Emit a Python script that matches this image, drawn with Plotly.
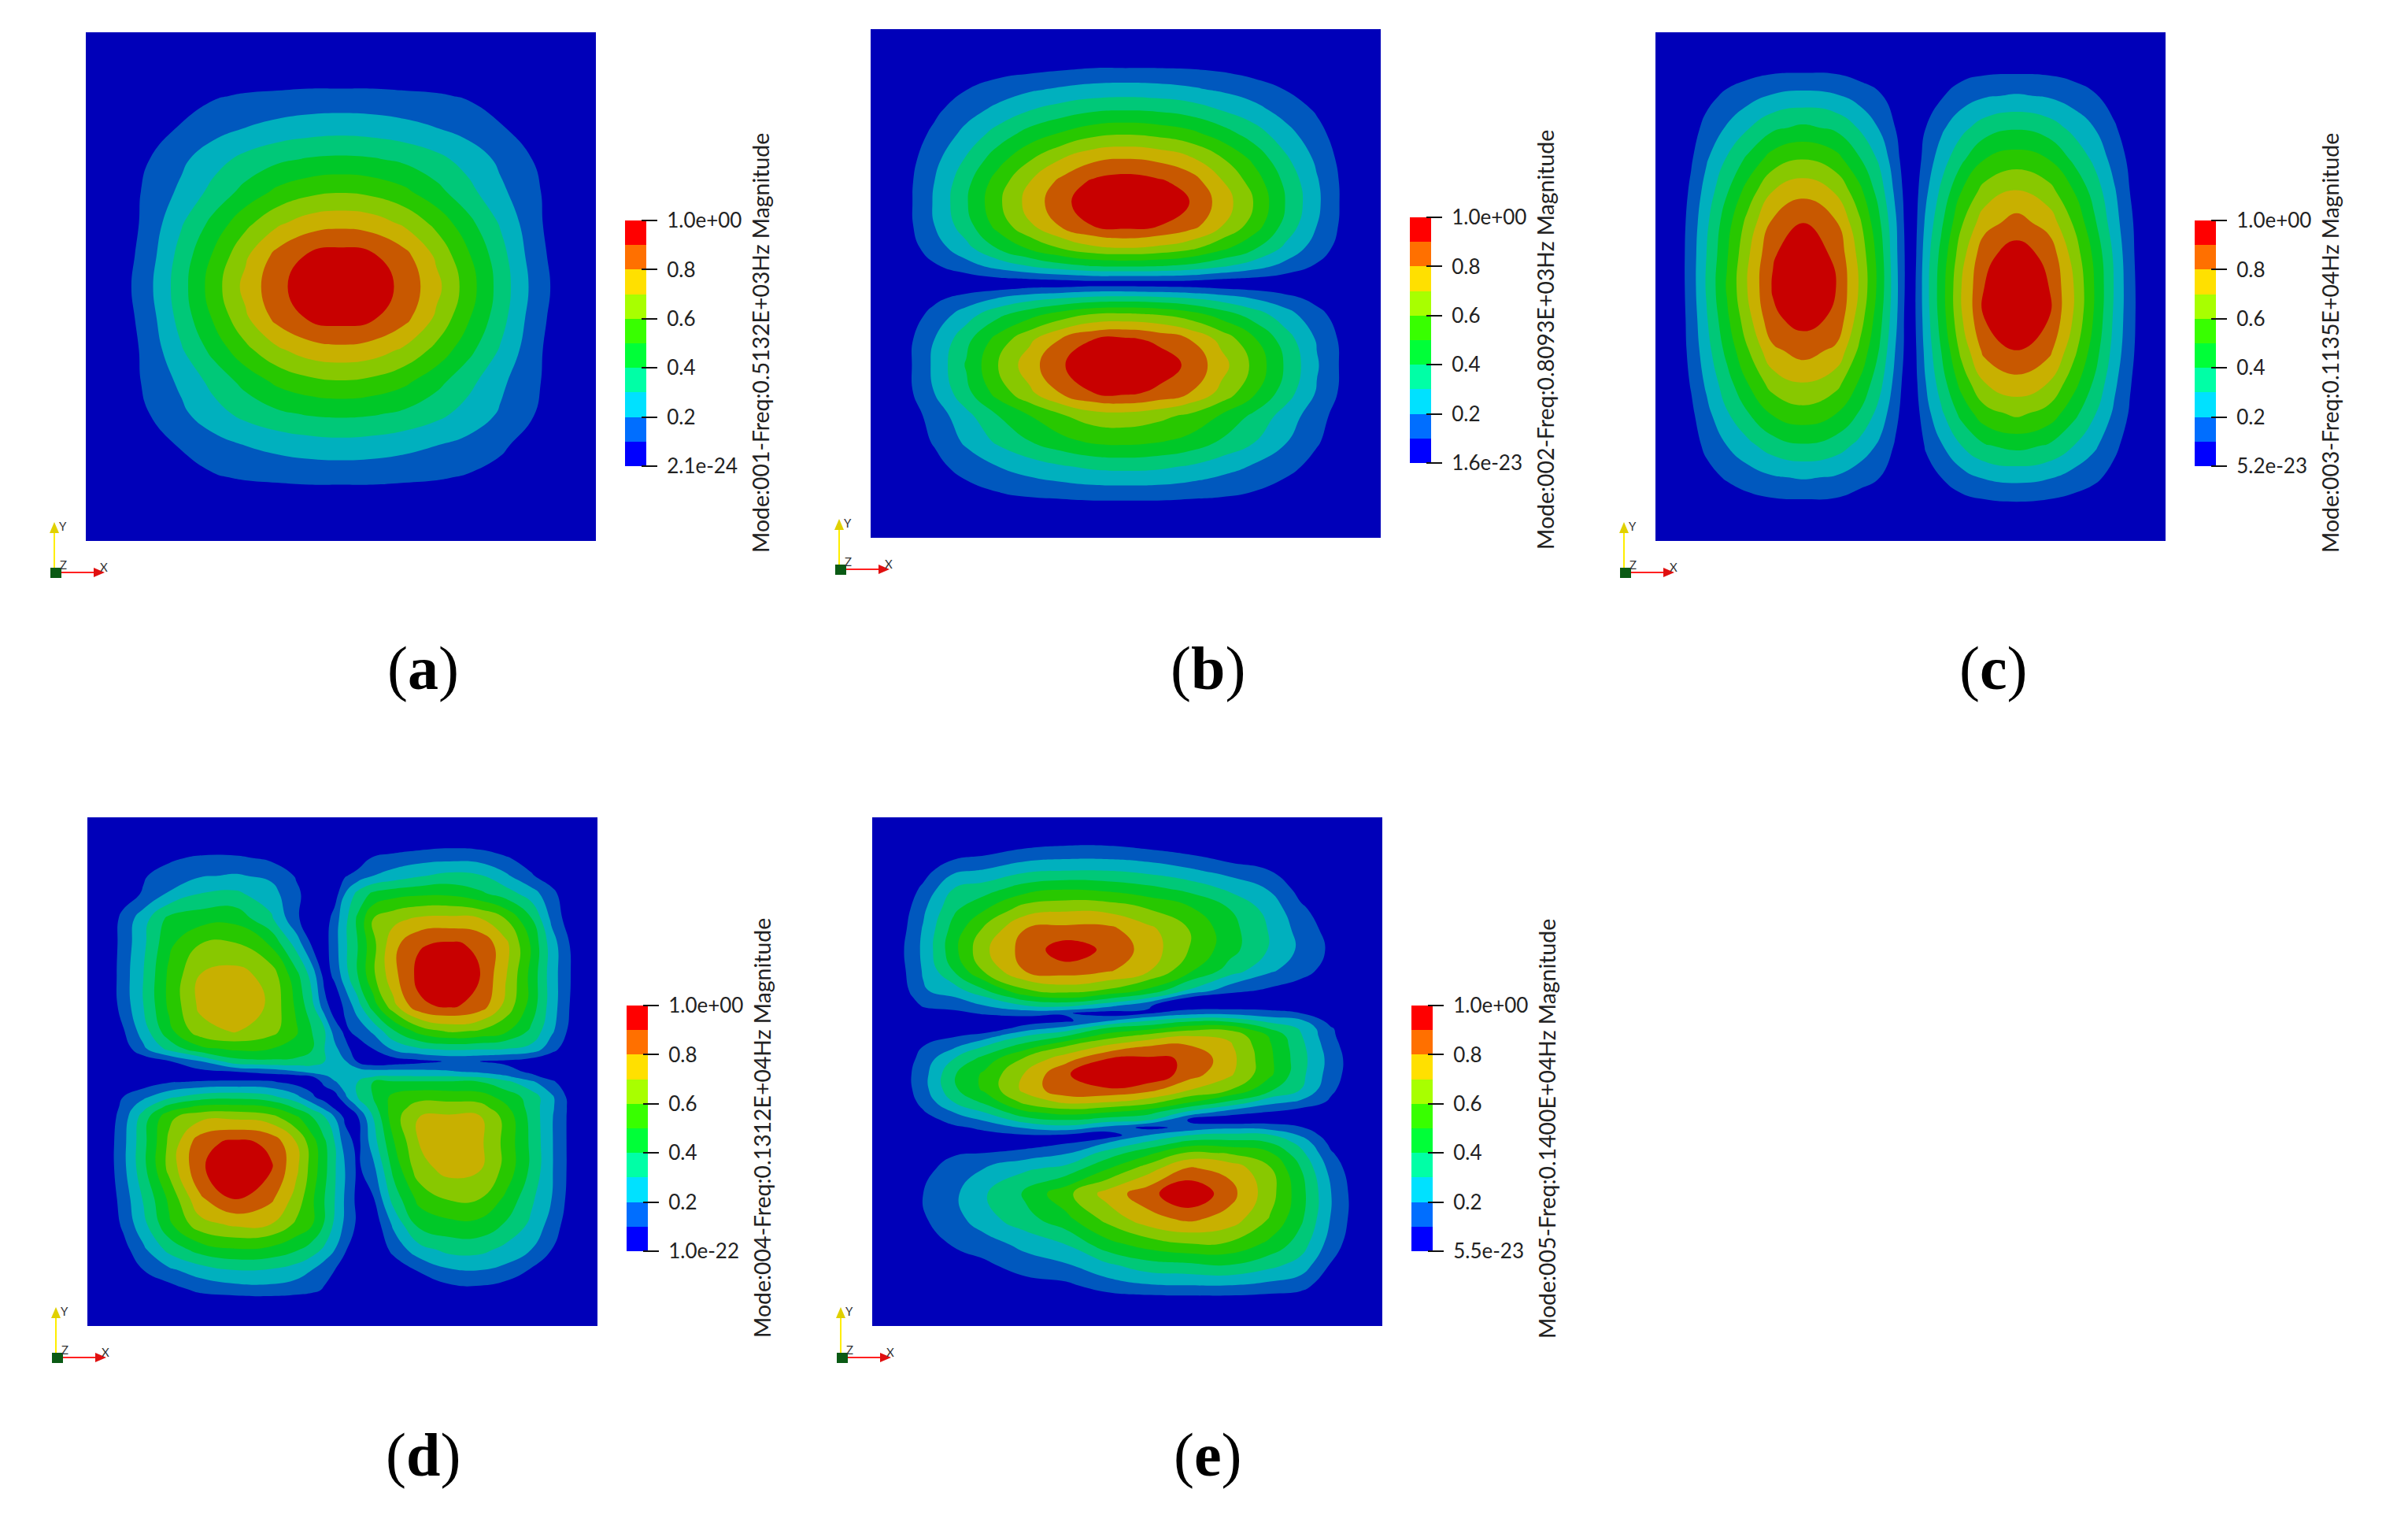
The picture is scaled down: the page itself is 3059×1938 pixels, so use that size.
import plotly.graph_objects as go

W, H = 3059, 1938
panel_tags = ["(<b>a</b>)", "(<b>b</b>)", "(<b>c</b>)", "(<b>d</b>)", "(<b>e</b>)"]
titles = ["Mode:001-Freq:0.5132E+03Hz Magnitude", "Mode:002-Freq:0.8093E+03Hz Magnitude",
          "Mode:003-Freq:0.1135E+04Hz Magnitude", "Mode:004-Freq:0.1312E+04Hz Magnitude",
          "Mode:005-Freq:0.1400E+04Hz Magnitude"]
min_labels = ["2.1e-24", "1.6e-23", "5.2e-23", "1.0e-22", "5.5e-23"]
tick_values = [0, 0.2, 0.4, 0.6, 0.8, 1.0]
tick_labels = ["", "0.2", "0.4", "0.6", "0.8", "1.0e+00"]
band_colors = ["#0000b9", "#0058be", "#00b0be", "#00c878", "#00c828", "#28c800", "#88c800", "#c8b000", "#c85800", "#c80000"]
legend_colors = ["#0000ff", "#006eff", "#00e1ff", "#00ffa6", "#00ff38", "#38ff00", "#a8ff00", "#ffe000", "#ff7000", "#ff0000"]

uniform = [0, .0625, .125, .1875, .25, .3125, .375, .4375, .5, .5625, .625, .6875, .75, .8125, .875, .9375, 1]

# Panel a: magnitude in percent of maximum
xa = uniform
ya = uniform
za = [
[0]*17,
[0]*17,
[0,0,0,5,9,11,12,13,13,13,12,11,9,5,0,0,0],
[0,0,4,11,16,20,23,25,26,25,23,20,16,11,4,0,0],
[0,0,10,18,26,33,38,41,42,41,38,33,26,18,10,0,0],
[0,2,13,22,33,43,52,57,59,57,52,43,33,22,13,2,0],
[0,2,14,29,43,57,68,75,77,75,68,57,43,29,14,2,0],
[0,3,16,34,51,68,83,91,94,91,83,68,51,34,16,3,0],
[0,4,18,36,55,73,87,96,100,96,87,73,55,36,18,4,0],
[0,3,16,34,51,68,83,91,94,91,83,68,51,34,16,3,0],
[0,2,14,29,43,57,68,75,77,75,68,57,43,29,14,2,0],
[0,2,13,22,33,43,52,57,59,57,52,43,33,22,13,2,0],
[0,0,10,18,26,33,38,41,42,41,38,33,26,19,11,0,0],
[0,0,4,11,16,20,23,25,26,25,23,20,17,12,5,0,0],
[0,0,0,5,9,11,12,13,13,13,12,11,9,6,0,0,0],
[0]*17,
[0]*17,
]

# Panel b
xb = uniform
yb = [0,.06,.0875,.12,.16,.205,.255,.30,.34,.385,.43,.465,.49,.50,.51,.53,.56,.61,.66,.715,.76,.81,.86,.92,.96,1]
zb = [
[0]*17,
[0,0,1,2,2,3,3,4,4,4,4,3,2,2,1,0,0],
[0,1,3,5,8,10,12,14,14,14,13,11,8,6,3,1,0],
[0,1,5,10,15,19,22,24,25,24,22,19,15,10,6,1,0],
[0,2,8,16,23,30,35,39,40,39,36,30,24,16,9,2,0],
[0,3,12,23,34,44,51,57,59,57,53,45,35,24,13,3,0],
[0,4,17,31,46,59,70,78,80,78,72,61,48,32,18,4,0],
[0,5,20,37,55,70,83,92,95,92,86,71,56,38,21,5,0],
[0,5,21,39,58,74,87,97,100,97,90,76,60,40,22,5,0],
[0,5,20,36,54,69,82,91,94,91,85,71,56,37,20,5,0],
[0,4,15,27,41,52,61,68,70,68,63,53,42,28,15,4,0],
[0,2,9,16,24,31,37,41,42,41,38,32,25,17,9,2,0],
[0,1,3,6,9,11,13,15,15,15,14,11,9,6,3,1,0],
[0,0,1,2,3,4,4,5,5,5,5,4,3,2,1,0,0],
[0,1,3,6,8,11,12,14,14,13,12,10,8,5,3,1,0],
[0,2,8,14,21,27,31,34,35,34,31,26,20,14,7,2,0],
[0,3,13,25,37,46,54,60,61,59,54,45,35,24,13,3,0],
[0,5,20,37,54,68,81,90,92,88,80,67,52,35,19,5,0],
[0,5,22,41,60,76,89,98,100,96,88,74,58,39,21,5,0],
[0,5,20,37,54,68,81,90,92,88,80,67,52,35,19,5,0],
[0,3,14,27,40,50,59,65,66,63,58,49,38,26,14,3,0],
[0,3,11,22,32,40,47,52,53,51,47,39,31,21,11,3,0],
[0,2,7,14,20,25,29,32,33,32,29,24,19,13,7,2,0],
[0,1,3,5,8,10,11,12,12,12,11,10,8,5,3,1,0],
[0]*17,
[0]*17,
]

# Panel c
xc = [0,.04,.07,.10,.14,.18,.23,.29,.354,.40,.44,.47,.49,.50,.51,.53,.56,.60,.645,.708,.771,.82,.86,.90,.93,.96,1]
yc = uniform
zc = [
[0]*27,
[0,0,1,2,3,4,5,5,5,3,2,1,0,0,1,1,2,4,5,5,5,4,3,1,1,0,0],
[0,1,3,7,12,16,21,23,21,16,11,6,2,1,2,5,9,15,19,21,19,15,11,6,3,1,0],
[0,1,6,13,21,29,38,42,38,29,19,10,4,2,4,10,18,27,35,39,35,27,20,11,5,1,0],
[0,2,9,19,31,42,55,60,54,41,28,14,5,2,5,14,25,38,50,55,50,38,28,16,8,2,0],
[0,2,12,24,39,54,70,77,69,53,35,18,7,3,7,18,32,50,64,71,64,50,36,21,10,2,0],
[0,3,14,28,46,63,82,90,81,62,41,22,8,4,8,22,38,59,76,84,76,59,42,24,12,3,0],
[0,3,15,30,49,68,89,97,88,67,45,23,9,4,9,25,43,66,87,95,87,66,48,28,13,3,0],
[0,3,15,31,51,70,91,100,90,69,46,24,9,4,10,26,45,70,90,100,90,70,50,29,14,3,0],
[0,3,14,29,48,66,88,94,88,65,43,23,8,4,10,25,44,69,90,98,90,69,49,28,14,3,0],
[0,3,13,26,43,59,78,84,78,58,39,20,8,3,9,23,40,63,83,90,83,63,45,26,13,3,0],
[0,2,11,22,36,50,65,71,64,49,33,17,6,3,8,20,35,54,70,77,70,54,39,22,11,2,0],
[0,2,8,17,29,39,51,56,50,39,26,13,5,2,6,16,28,43,56,62,56,43,31,18,9,2,0],
[0,1,6,12,20,27,35,39,35,27,18,9,4,2,4,11,19,30,39,43,39,30,22,12,6,1,0],
[0,1,3,7,11,15,19,21,19,14,10,5,2,1,2,6,10,16,21,23,21,16,12,7,3,1,0],
[0,0,1,2,3,4,5,5,5,3,2,1,0,0,1,2,3,4,5,6,5,4,3,2,1,0,0],
[0]*27,
]

# Panel d
xd = [0,.04,.07,.11,.16,.22,.29,.36,.41,.44,.465,.485,.505,.53,.56,.60,.65,.71,.77,.82,.87,.91,.95,1]
yd = [0,.05,.08,.115,.15,.2,.25,.31,.37,.42,.455,.48,.50,.51,.52,.55,.57,.59,.64,.69,.75,.80,.85,.89,.93,.96,1]
zd = [
[0]*24,
[0,0,0,0,0,0,0,0,0,0,0,0,0,0,0,1,4,6,5,3,1,0,0,0],
[0,0,0,2,8,12,12,8,2,0,0,0,0,3,11,14,16,17,16,11,6,2,0,0],
[0,0,2,9,15,19,21,18,9,3,0,0,9,14,20,24,29,33,31,22,11,5,1,0],
[0,0,5,11,21,30,32,24,12,5,1,5,20,33,42,46,48,48,42,35,25,13,2,0],
[0,3,13,26,43,46,47,32,12,2,4,15,27,42,60,67,72,73,71,60,41,18,3,0],
[0,3,14,28,48,60,61,49,26,9,6,16,28,40,57,77,89,92,88,73,49,25,8,0],
[0,3,15,30,52,70,74,66,43,26,6,12,26,40,58,77,93,100,90,71,47,25,9,0],
[0,3,14,30,52,72,79,68,48,33,14,4,12,26,45,67,88,92,86,67,46,25,8,0],
[0,1,9,25,47,66,71,64,51,40,31,15,8,13,22,39,54,62,59,52,38,22,6,0],
[0,0,4,18,33,47,52,50,47,41,30,23,13,5,10,22,29,32,31,30,27,14,2,0],
[0,0,0,3,9,19,36,38,37,34,30,26,21,9,2,4,7,11,10,8,4,1,0,0],
[0,0,0,1,3,7,10,14,19,24,27,27,28,26,24,24,23,21,18,14,8,4,0,0],
[0,0,0,1,3,4,4,5,6,9,17,24,28,28,30,31,31,31,29,22,13,6,0,0],
[0,0,0,4,9,11,12,11,6,5,12,19,25,30,40,41,41,41,40,33,22,12,2,0],
[0,0,10,18,28,35,37,33,23,12,5,5,18,30,40,53,57,56,55,46,36,22,5,0],
[0,2,13,27,44,53,54,50,38,27,17,8,6,20,36,55,64,65,64,52,36,22,6,0],
[0,4,15,35,58,67,68,64,52,41,31,20,8,9,30,56,70,72,71,57,37,21,6,0],
[0,5,17,37,62,86,93,88,70,55,42,30,15,7,25,49,70,79,72,57,38,21,6,0],
[0,5,17,37,63,88,100,91,72,56,43,31,20,8,17,43,66,74,71,57,38,21,6,0],
[0,4,14,31,52,78,91,82,66,52,40,30,19,7,9,34,53,61,60,48,32,20,5,0],
[0,2,12,27,48,66,72,70,58,51,39,28,18,8,3,22,43,47,47,39,28,16,3,0],
[0,0,6,18,33,44,49,47,41,35,28,20,11,4,0,13,26,33,33,27,20,10,0,0],
[0,0,1,10,18,25,30,29,25,20,13,10,5,1,0,3,11,19,20,17,9,2,0,0],
[0,0,0,1,5,12,15,16,14,12,9,5,1,0,0,0,1,6,7,4,1,0,0,0],
[0]*24,
[0]*24,
]

# Panel e: read column by column
xe = [0,.05,.1,.16,.22,.3,.38,.46,.54,.62,.7,.78,.84,.9,.95,1]
ye = [0,.05,.075,.105,.14,.18,.22,.26,.30,.34,.355,.37,.385,.40,.415,.43,.45,.475,.505,.535,.56,.58,.595,.61,.625,.64,.66,.69,.74,.79,.84,.88,.92,.96,1]
ze_columns = [
[0]*35,
[0,0,0,0,1,2,4,6,5,3,2,1,0,0,0,0,0,1,3,2,1,0,0,0,0,0,0,0,1,1,0,0,0,0,0],
[0,0,0,6,12,18,21,22,21,19,15,11,6,3,1,5,10,14,16,16,13,9,5,3,1,0,2,7,10,9,3,0,0,0,0],
[0,0,7,18,30,38,44,47,41,25,19,13,8,4,3,9,18,30,39,38,30,20,14,8,5,3,9,14,18,16,11,4,0,0,0],
[0,0,10,21,35,49,62,68,62,39,28,20,11,5,2,15,30,44,52,52,42,30,21,12,7,3,10,20,29,26,15,8,0,0,0],
[0,6,15,28,45,65,80,84,81,59,45,30,14,4,15,30,45,62,71,73,63,48,35,21,9,4,14,28,42,36,23,15,6,0,0],
[0,8,17,30,49,68,83,96,86,64,50,33,11,8,24,40,60,76,89,88,72,54,40,26,8,9,19,33,57,47,30,19,8,0,0],
[0,8,17,30,47,67,83,88,82,59,42,24,5,19,41,55,72,90,98,89,70,50,35,17,4,20,34,49,74,63,46,28,15,0,0],
[0,5,15,27,43,60,73,76,72,48,31,11,9,30,47,64,80,92,99,84,64,44,31,7,20,32,47,65,86,76,54,36,19,0,0],
[0,1,11,22,37,52,60,60,53,29,9,3,16,38,56,70,81,89,85,71,51,27,9,13,30,44,62,81,100,82,59,38,20,0,0],
[0,0,5,16,28,40,44,44,36,14,3,3,17,37,57,68,72,74,72,61,38,15,2,18,33,44,59,77,84,76,58,40,20,0,0],
[0,0,0,10,19,26,29,29,22,8,3,5,13,27,39,49,51,52,52,42,23,9,4,16,31,40,51,61,64,59,47,33,17,0,0],
[0,0,0,0,6,12,16,18,14,5,0,0,10,22,29,31,33,34,33,30,18,4,0,11,19,27,33,40,44,42,35,26,14,0,0],
[0,0,0,0,1,3,6,8,6,2,0,0,2,6,11,12,14,16,15,12,8,2,0,2,4,7,11,16,20,19,15,9,3,0,0],
[0,0,0,0,0,0,0,0,0,0,0,0,0,0,1,1,2,3,3,2,1,0,0,0,0,1,1,3,5,5,3,1,0,0,0],
[0]*35,
]
ze = [list(r) for r in zip(*ze_columns)]

panels = [(xa, ya, za), (xb, yb, zb), (xc, yc, zc), (xd, yd, zd), (xe, ye, ze)]

# Layout in pixels of the page
origins = [(109, 41), (1106, 37), (2103, 41), (111, 1038), (1108, 1038)]
tag_centres = [(537, 849), (1534, 849), (2532, 849), (537, 1847), (1534, 1847)]
SIZE_X = 648
SIZE_Y = 646
FONT = "Lato, 'Open Sans', sans-serif"


def px(v):
    return v / W


def py(v):
    return 1 - v / H


fig = go.Figure()
layout = {}
shapes = []
annotations = []
band_scale = [[i / 9, c] for i, c in enumerate(band_colors)]
legend_scale = [[i / 9, c] for i, c in enumerate(legend_colors)]
levels = [i / 10 + 0.05 for i in range(10)]

for i, (x, y, z) in enumerate(panels):
    ox, oy = origins[i]
    a = 2 * i + 1
    b = 2 * i + 2
    fig.add_trace(go.Contour(
        x=x, y=y, z=z, xaxis=f"x{a}", yaxis=f"y{a}", showscale=False, hoverinfo="skip",
        autocontour=False, contours=dict(start=10, end=90, size=10, coloring="fill", showlines=False),
        colorscale=band_scale, line=dict(width=0, smoothing=1.3),
    ))
    layout[f"xaxis{a}"] = dict(domain=[px(ox), px(ox + SIZE_X)], range=[0, 1], visible=False, anchor=f"y{a}")
    layout[f"yaxis{a}"] = dict(domain=[py(oy + SIZE_Y), py(oy)], range=[1, 0], visible=False, anchor=f"x{a}")

    # legend bar
    bx0, bx1 = ox + 685, ox + 712
    by0, by1 = oy + 239, oy + 551
    fig.add_trace(go.Heatmap(
        x=[0], y=levels, z=[[k] for k in range(10)], zmin=0, zmax=9, colorscale=legend_scale,
        showscale=False, hoverinfo="skip", xaxis=f"x{b}", yaxis=f"y{b}",
    ))
    labels = list(tick_labels)
    labels[0] = min_labels[i]
    layout[f"xaxis{b}"] = dict(domain=[px(bx0), px(bx1)], range=[-.5, .5], visible=False, anchor=f"y{b}")
    layout[f"yaxis{b}"] = dict(
        domain=[py(by1), py(by0)], range=[0, 1], anchor="free", position=px(bx1 - 7), side="right",
        showgrid=False, zeroline=False, showline=False, ticks="outside", ticklen=20, tickwidth=2,
        tickcolor="#111111", tickmode="array", tickvals=tick_values, ticktext=labels,
        tickfont=dict(family=FONT, size=26, color="#222222"), ticklabelstandoff=7,
    )
    annotations.append(dict(
        text=titles[i], textangle=-90, x=px(ox + 857), y=py(oy + 395), xref="paper", yref="paper",
        xanchor="center", yanchor="middle", showarrow=False, font=dict(family=FONT, size=28.4, color="#222222"),
    ))
    annotations.append(dict(
        text=panel_tags[i], x=px(tag_centres[i][0]), y=py(tag_centres[i][1]), xref="paper", yref="paper",
        xanchor="center", yanchor="middle", showarrow=False,
        font=dict(family="'Liberation Serif', serif", size=78, color="#000000"),
    ))

    # orientation triad
    tx, ty = ox - 40, oy + 686
    shapes.append(dict(type="line", xref="paper", yref="paper", x0=px(tx), y0=py(ty), x1=px(tx), y1=py(ty - 54),
                       line=dict(color="#ffee00", width=2)))
    shapes.append(dict(type="line", xref="paper", yref="paper", x0=px(tx), y0=py(ty), x1=px(tx + 52), y1=py(ty),
                       line=dict(color="#ff2020", width=2)))
    shapes.append(dict(type="path", xref="paper", yref="paper", line=dict(width=0), fillcolor="#e0d000",
                       path=f"M {px(tx)} {py(ty - 64)} L {px(tx - 6)} {py(ty - 50)} L {px(tx + 6)} {py(ty - 50)} Z"))
    shapes.append(dict(type="path", xref="paper", yref="paper", line=dict(width=0), fillcolor="#e01010",
                       path=f"M {px(tx + 64)} {py(ty)} L {px(tx + 50)} {py(ty - 6)} L {px(tx + 50)} {py(ty + 6)} Z"))
    shapes.append(dict(type="rect", xref="paper", yref="paper", x0=px(tx - 5), x1=px(tx + 9), y0=py(ty + 7), y1=py(ty - 6),
                       line=dict(width=0), fillcolor="#0a5a14"))
    for letter, dx, dy in (("Y", 11, -59), ("Z", 11, -10), ("X", 63, -7)):
        annotations.append(dict(text=letter, x=px(tx + dx), y=py(ty + dy), xref="paper", yref="paper",
                                xanchor="center", yanchor="middle", showarrow=False,
                                font=dict(family=FONT, size=15, color="#333333")))

fig.update_layout(width=W, height=H, margin=dict(l=0, r=0, t=0, b=0, autoexpand=False), paper_bgcolor="white",
                  plot_bgcolor="#0000b9", showlegend=False, shapes=shapes, annotations=annotations, **layout)
fig.write_html("out.html", config={"responsive": False, "displayModeBar": False},
               post_script="document.body.style.margin='0';document.documentElement.style.overflow='hidden';")
